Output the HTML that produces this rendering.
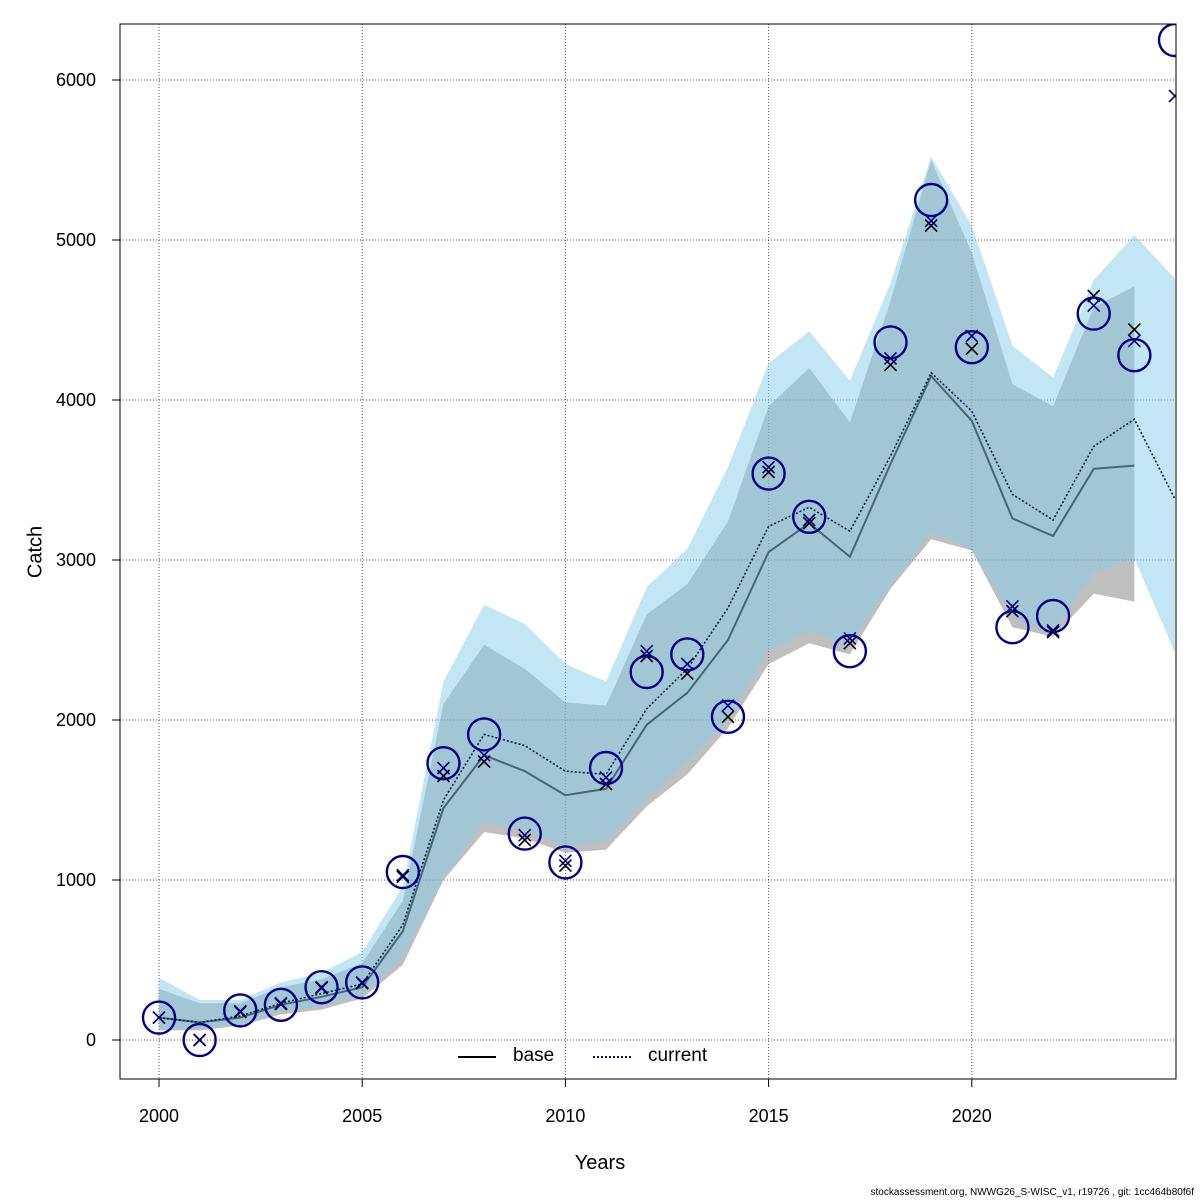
<!DOCTYPE html>
<html><head><meta charset="utf-8"><style>
html,body{margin:0;padding:0;background:#fff;}
svg{display:block;font-family:"Liberation Sans",Arial,sans-serif;}
</style></head><body>
<svg id="chart" width="1200" height="1200" viewBox="0 0 1200 1200"></svg>
<script>
const years=[2000,2001,2002,2003,2004,2005,2006,2007,2008,2009,2010,2011,2012,2013,2014,2015,2016,2017,2018,2019,2020,2021,2022,2023,2024,2025];
const observed=[140,0,185,220,330,360,1050,1730,1910,1290,1110,1700,2300,2410,2020,3540,3270,2430,4360,5250,4330,2580,2650,4540,4280,6250];
const basePred=[140,0,175,225,325,355,1020,1650,1740,1250,1090,1600,2400,2290,2020,3550,3230,2480,4220,5090,4320,2680,2550,4650,4440];
const curPred=[140,0,180,230,330,360,1030,1700,1780,1280,1120,1640,2430,2350,2090,3580,3250,2510,4260,5120,4400,2710,2560,4590,4370,5900];
const baseLine=[140,110,140,220,270,330,680,1450,1780,1680,1530,1570,1970,2170,2500,3050,3230,3020,3600,4150,3870,3260,3150,3570,3590];
const curLine=[140,110,150,230,290,350,720,1500,1910,1840,1680,1660,2070,2320,2700,3210,3330,3180,3650,4170,3930,3410,3250,3710,3880,3380];
const baseLow=[60,60,90,160,190,260,470,1000,1300,1260,1170,1190,1460,1660,1950,2350,2480,2410,2820,3130,3060,2580,2520,2790,2740];
const baseHigh=[320,230,230,330,380,480,870,2100,2470,2320,2110,2090,2660,2850,3240,3960,4200,3860,4620,5500,4920,4100,3960,4580,4710];
const curLow=[70,70,100,180,210,290,510,1010,1360,1310,1210,1240,1510,1740,2000,2440,2550,2470,2840,3170,3070,2640,2550,2920,3010,2420];
const curHigh=[390,250,250,360,420,550,960,2240,2720,2600,2350,2240,2830,3070,3580,4230,4430,4120,4730,5520,5090,4340,4140,4750,5030,4760];
const xTicks=[2000,2005,2010,2015,2020];
const yTicks=[0,1000,2000,3000,4000,5000,6000];

const NS="http://www.w3.org/2000/svg";
const svg=document.getElementById('chart');
const L=120,R=1176,T=24,B=1079;
const sx=y=>159+(y-2000)*40.64;
const sy=v=>1040-v*0.16;
function mk(tag,attrs,parent){const e=document.createElementNS(NS,tag);for(const k in attrs)e.setAttribute(k,attrs[k]);(parent||svg).appendChild(e);return e;}

const defs=mk('defs',{});
const cp=mk('clipPath',{id:'clip'},defs);
mk('rect',{x:L,y:T,width:R-L,height:B-T},cp);

const grid=mk('g',{});


xTicks.forEach(t=>mk('line',{x1:sx(t),x2:sx(t),y1:T,y2:B,stroke:'#555','stroke-width':1,'stroke-dasharray':'1,2'},grid));
yTicks.forEach(t=>mk('line',{x1:L,x2:R,y1:sy(t),y2:sy(t),stroke:'#555','stroke-width':1,'stroke-dasharray':'1,2'},grid));

const plot=mk('g',{'clip-path':'url(#clip)'});
function band(lo,hi,fill,name){
  let d='';
  lo.forEach((v,i)=>{d+=(i?'L':'M')+sx(years[i])+','+sy(v);});
  for(let i=hi.length-1;i>=0;i--)d+='L'+sx(years[i])+','+sy(hi[i]);
  const p=mk('path',{d:d+'Z',fill:fill,stroke:'none'},plot);
  
  
}
function line(vals,stroke,dash,name,w){
  const pts=vals.map((v,i)=>sx(years[i])+','+sy(v)).join(' ');
  const p=mk('polyline',{points:pts,fill:'none',stroke:stroke,'stroke-width':w,'stroke-dasharray':dash},plot);
  
  
}
band(baseLow,baseHigh,'rgba(128,128,128,0.5)','base-confidence-band');
line(baseLine,'#000','none','base-line',2);
band(curLow,curHigh,'rgba(135,206,235,0.5)','current-confidence-band');
line(curLine,'#00204a','2,2','current-line',1.6);

function cross(x,y,col,name){
  const g=mk('g',{stroke:col,'stroke-width':1.6},plot);
  
  
  mk('line',{x1:x-6,y1:y-6,x2:x+6,y2:y+6},g);
  mk('line',{x1:x-6,y1:y+6,x2:x+6,y2:y-6},g);
}
basePred.forEach((v,i)=>cross(sx(years[i]),sy(v),'#000','base-predicted-point'));
curPred.forEach((v,i)=>cross(sx(years[i]),sy(v),'#00008b','current-predicted-point'));
observed.forEach((v,i)=>{
  const c=mk('circle',{cx:sx(years[i]),cy:sy(v),r:16,fill:'none',stroke:'#00008b','stroke-width':2.4},plot);
  
  
});

const fr=mk('rect',{x:L,y:T,width:R-L,height:B-T,fill:'none',stroke:'#000','stroke-width':1});



const xa=mk('g',{});


mk('line',{x1:sx(2000),x2:sx(2020),y1:B,y2:B,stroke:'#000'},xa);
xTicks.forEach(t=>{
  mk('line',{x1:sx(t),x2:sx(t),y1:B,y2:B+8,stroke:'#000'},xa);
  const tx=mk('text',{x:sx(t),y:1122,'text-anchor':'middle','font-size':18},xa);
  tx.textContent=t;
  
  
});
const ya=mk('g',{});


mk('line',{x1:L,x2:L,y1:sy(0),y2:sy(6000),stroke:'#000'},ya);
yTicks.forEach(t=>{
  mk('line',{x1:L-8,x2:L,y1:sy(t),y2:sy(t),stroke:'#000'},ya);
  const tx=mk('text',{x:96,y:sy(t)+6,'text-anchor':'end','font-size':18},ya);
  tx.textContent=t;
  
  
});
</script>
<div style="position:absolute;left:0;top:0;width:1200px;height:1200px;pointer-events:none;font-family:'Liberation Sans',Arial,sans-serif;">
  <div style="position:absolute;left:600px;top:1152px;transform:translateX(-50%);font-size:20px;">Years</div>
  <div style="position:absolute;left:36px;top:552px;transform:translate(-50%,-50%) rotate(-90deg);font-size:20px;">Catch</div>
  <div style="position:absolute;left:458px;top:1045px;font-size:19px;">
    <div style="position:absolute;left:0;top:0;width:160px;">
      <span style="position:absolute;left:0;top:11px;width:38px;border-top:2px solid #000;"></span>
      <span style="position:absolute;left:55px;top:0;">base</span>
    </div>
    <div style="position:absolute;left:135px;top:0;width:160px;">
      <span style="position:absolute;left:0;top:11px;width:38px;border-top:2px dotted #00204a;"></span>
      <span style="position:absolute;left:55px;top:0;">current</span>
    </div>
  </div>
  <div style="position:absolute;right:6px;top:1187px;font-size:10px;">stockassessment.org, NWWG26_S-WISC_v1, r19726 , git: 1cc464b80f6f</div>
</div>
</body></html>
